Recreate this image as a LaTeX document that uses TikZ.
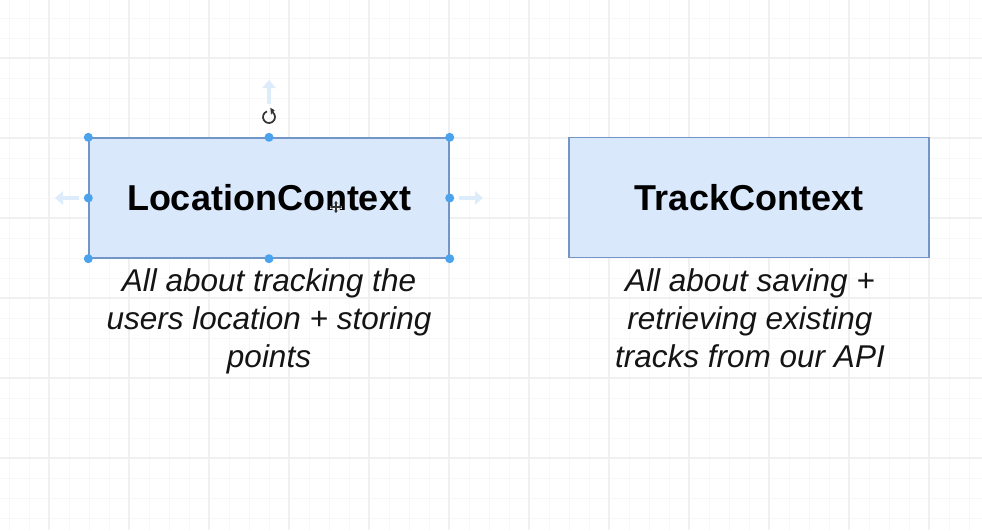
\documentclass[tikz,border=0pt]{standalone}
\usepackage{fontspec}
\setmainfont{Liberation Sans}
\usetikzlibrary{arrows.meta}
\definecolor{gridminor}{HTML}{F7F7F7}
\definecolor{gridmajor}{HTML}{F0F0F0}
\definecolor{boxfill}{HTML}{DAE8FC}
\definecolor{boxline}{HTML}{7396C6}
\definecolor{handle}{HTML}{4AA3EC}
\definecolor{hint}{HTML}{DCECFA}
\definecolor{icon}{HTML}{333333}
\tikzset{
  ctxbox/.style={draw=boxline, fill=boxfill, line width=1.4pt,
    minimum width=360pt, minimum height=120pt, inner sep=0pt,
    font=\fontsize{36}{40}\selectfont\bfseries, text=black},
  desc/.style={align=center, inner sep=0pt,
    font=\fontsize{31.5}{38}\selectfont\itshape, text=black!92},
  handledot/.style={circle, fill=handle, inner sep=0pt, minimum size=9pt},
  hintarrow/.style={draw=hint, line width=4.5pt, -{Triangle[width=13pt,length=8pt]}},
}
\begin{document}
\begin{tikzpicture}[x=1pt,y=-1pt]
\useasboundingbox (0,0) rectangle (982,530);
\fill[white] (0,0) rectangle (982,530);
% grid
\foreach \x in {9,29,...,989} \draw[gridminor, line width=0.9pt] (\x,0) -- (\x,530);
\foreach \y in {18,38,...,530} \draw[gridminor, line width=0.9pt] (0,\y) -- (982,\y);
\foreach \x in {49,129,...,989} \draw[gridmajor, line width=1.1pt] (\x,0) -- (\x,530);
\foreach \y in {58,138,...,530} \draw[gridmajor, line width=1.1pt] (0,\y) -- (982,\y);

% boxes
\node[ctxbox] (loc) at (269,198) {LocationContext};
\node[ctxbox] (trk) at (749,197.5) {TrackContext};

% descriptions
\node[desc, anchor=north] (locdesc) at (269,268)
  {All about tracking the\\users location + storing\\points};
\node[desc, anchor=north] (trkdesc) at (750,268)
  {All about saving +\\retrieving existing\\tracks from our API};

% selection hints
\coordinate (upS) at (269,104);
\coordinate (upE) at (269,80);
\coordinate (lfS) at (79,198);
\coordinate (lfE) at (55,198);
\coordinate (rtS) at (459,198);
\coordinate (rtE) at (483,198);
\draw[hintarrow] (upS) -- (upE);
\draw[hintarrow] (lfS) -- (lfE);
\draw[hintarrow] (rtS) -- (rtE);

% rotate icon
\coordinate (rot) at (269,117);
\begin{scope}[shift={(rot)}, x=1pt, y=1pt]
  \draw[icon, line width=1.7pt] (50:6) arc[start angle=50, end angle=-250, radius=6];
  \fill[icon] (50:3.2) -- (50:8.8) -- ++(150:5) -- cycle;
\end{scope}

% handles
\foreach \a in {north west,north,north east,west,east,south west,south,south east}
  \node[handledot] at (loc.\a) {};

% move cursor
\coordinate (mc) at (336,207);
\begin{scope}[shift={(mc)}]
  \draw[white, line width=3pt] (-6,0) -- (6,0) (0,-6) -- (0,6);
  \draw[icon, line width=1.2pt, {Stealth[length=2.5pt,width=4pt]}-{Stealth[length=2.5pt,width=4pt]}] (-6,0) -- (6,0);
  \draw[icon, line width=1.2pt, {Stealth[length=2.5pt,width=4pt]}-{Stealth[length=2.5pt,width=4pt]}] (0,-6) -- (0,6);
\end{scope}
\end{tikzpicture}
\end{document}
